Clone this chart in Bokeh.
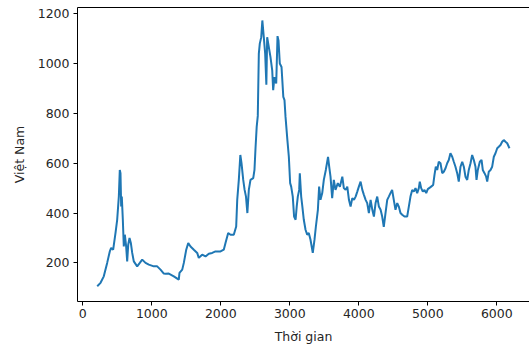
from bokeh.plotting import figure
from bokeh.models import Range1d, FixedTicker, LinearAxis
from bokeh.embed import file_html
from bokeh.resources import INLINE

# Time index (x) and index value (y)
time_idx = [209, 257, 304, 353, 391, 411, 440, 474, 498, 522, 536, 546, 556, 565, 580, 594,
            609, 628, 643, 658, 677, 696, 716, 739, 788, 826, 861, 909, 957, 1029, 1078,
            1126, 1174, 1199, 1246, 1319, 1391, 1401, 1441, 1464, 1499, 1528, 1561, 1609,
            1658, 1681, 1730, 1778, 1826, 1875, 1923, 1996, 2043, 2068, 2107, 2141, 2188,
            2223, 2238, 2261, 2283, 2300, 2325, 2345, 2365, 2385, 2406, 2430, 2470, 2488,
            2503, 2520, 2536, 2551, 2565, 2586, 2602, 2623, 2643, 2660, 2672, 2696, 2720,
            2745, 2759, 2778, 2803, 2822, 2836, 2855, 2880, 2906, 2923, 2938, 2966, 2986,
            3005, 3020, 3043, 3062, 3084, 3100, 3116, 3136, 3145, 3165, 3182, 3203, 3228,
            3252, 3275, 3300, 3333, 3358, 3378, 3407, 3425, 3445, 3470, 3493, 3522, 3554,
            3571, 3590, 3614, 3638, 3662, 3696, 3726, 3761, 3783, 3809, 3833, 3857, 3881,
            3906, 3930, 3954, 3978, 4001, 4026, 4051, 4074, 4099, 4122, 4146, 4171, 4196,
            4219, 4243, 4267, 4291, 4316, 4339, 4362, 4387, 4412, 4435, 4459, 4483, 4507,
            4532, 4557, 4580, 4604, 4629, 4662, 4701, 4725, 4749, 4774, 4797, 4822, 4846,
            4870, 4884, 4904, 4928, 4952, 4977, 5000, 5039, 5078, 5097, 5116, 5136, 5159,
            5184, 5209, 5232, 5257, 5281, 5304, 5328, 5354, 5377, 5401, 5426, 5449, 5474,
            5499, 5522, 5546, 5571, 5594, 5619, 5643, 5667, 5691, 5706, 5725, 5754, 5779,
            5797, 5822, 5846, 5861, 5884, 5909, 5933, 5957, 5981, 6006, 6029, 6054, 6078,
            6101, 6126, 6151, 6174, 6184]
vn_index = [106, 120, 146, 200, 246, 260, 253, 320, 373, 466, 573, 560, 426, 466, 373, 266,
            313, 266, 206, 273, 300, 280, 240, 206, 186, 200, 213, 200, 193, 186, 186,
            173, 157, 156, 157, 146, 133, 160, 173, 200, 253, 280, 266, 253,
            240, 220, 233, 226, 237, 240, 246, 246, 253, 280, 320, 313, 313,
            346, 453, 533, 633, 600, 533, 493, 466, 400, 493, 533, 540, 573,
            660, 746, 790, 1040, 1080, 1106, 1173, 1106, 1040, 915, 1106, 1066, 1026,
            973, 893, 946, 920, 1110, 1093, 1000, 986, 866, 853, 786, 690, 626,
            520, 506, 466, 386, 373, 426, 466, 493, 560, 466, 426, 373, 333,
            313, 320, 293, 240, 293, 346, 413, 506, 453, 480, 533, 573, 625,
            586, 546, 460, 533, 493, 520, 506, 546, 500, 493, 506, 453, 426,
            460, 453, 466, 486, 506, 526, 493, 473, 453, 440, 400, 453, 413,
            386, 440, 466, 426, 413, 386, 345, 400, 453, 466, 480, 493, 453,
            413, 440, 426, 400, 393, 386, 386, 426, 466, 493, 486, 500, 480,
            500, 526, 500, 486, 493, 480, 496, 504, 513, 553, 586, 573, 606,
            600, 560, 566, 580, 600, 613, 640, 626, 606, 586, 560, 526, 586,
            606, 586, 546, 533, 573, 600, 633, 613, 586, 533, 573, 606, 613,
            573, 560, 546, 526, 566, 573, 586, 626, 640, 660, 666, 673, 686,
            693, 686, 680, 666, 660]

x_ticks = [0, 1000, 2000, 3000, 4000, 5000, 6000]
y_ticks = [200, 400, 600, 800, 1000, 1200]

TEXT = "#262626"
FONT = "DejaVu Sans"
FS = "12.5px"

p = figure(width=529, height=346, output_backend="svg", toolbar_location=None,
           x_range=Range1d(-77, 6474), y_range=Range1d(45, 1225),
           min_border_left=77, min_border_right=0, min_border_top=7, min_border_bottom=44,
           background_fill_color="white", border_fill_color="white")

p.line(time_idx, vn_index, line_color="#1f77b4", line_width=2.0)

p.grid.visible = False
p.outline_line_color = None

for ax in (p.xaxis[0], p.yaxis[0]):
    ax.axis_line_color = "black"
    ax.axis_line_width = 1
    ax.major_tick_line_color = "black"
    ax.major_tick_line_width = 1
    ax.major_tick_out = 4
    ax.major_tick_in = 0
    ax.minor_tick_line_color = None
    ax.major_label_text_font = FONT
    ax.major_label_text_font_size = FS
    ax.major_label_text_color = TEXT
    ax.axis_label_text_font = FONT
    ax.axis_label_text_font_size = FS
    ax.axis_label_text_font_style = "normal"
    ax.axis_label_text_color = TEXT

p.xaxis[0].ticker = FixedTicker(ticks=x_ticks)
p.yaxis[0].ticker = FixedTicker(ticks=y_ticks)
p.xaxis[0].axis_label = "Thời gian"
p.yaxis[0].axis_label = "Việt Nam"
p.xaxis[0].major_label_standoff = 3
p.xaxis[0].axis_label_standoff = 8
p.yaxis[0].major_label_standoff = 4
p.yaxis[0].axis_label_standoff = 8

top = LinearAxis(ticker=FixedTicker(ticks=[]), major_label_text_font_size="0px",
                 major_tick_out=0, major_tick_in=0, minor_tick_out=0, minor_tick_in=0,
                 major_label_standoff=0, axis_line_color="black", axis_line_width=1)
p.add_layout(top, "above")

open("out.html", "w").write(file_html(p, INLINE))
